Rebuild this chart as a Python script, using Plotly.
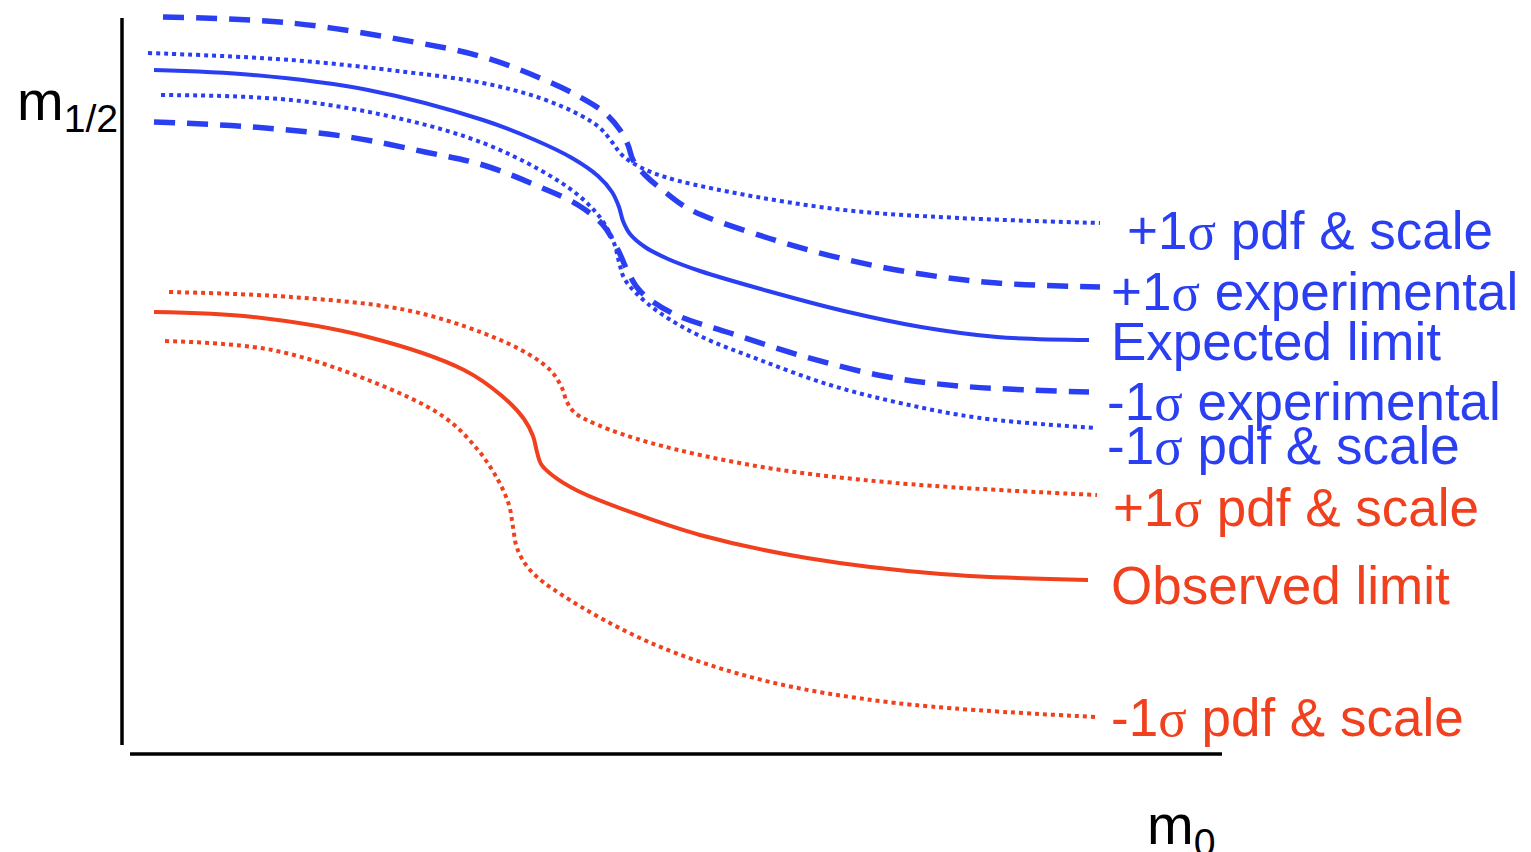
import plotly.graph_objects as go

# ---- curve data (schematic, in drawing units: x to the right, y downward) ----
exp_up_exp_x = [163, 291, 414, 483, 540, 580, 605, 620, 628, 633, 645, 665, 691, 768, 844, 921, 997, 1100]
exp_up_exp_y = [17, 23, 42, 57, 78, 97, 113, 130, 145, 160, 175, 192, 210, 238, 259, 274, 283, 287]

exp_up_pdf_x = [148, 291, 406, 483, 540, 580, 600, 612, 622, 638, 665, 730, 844, 959, 1100]
exp_up_pdf_y = [53, 60, 72, 83, 98, 115, 128, 142, 155, 166, 177, 192, 210, 218, 223]

expected_x = [154, 253, 368, 483, 535, 572, 598, 612, 619, 623, 630, 645, 668, 700, 768, 844, 921, 997, 1089]
expected_y = [70, 75, 90, 120, 140, 158, 176, 192, 207, 221, 234, 247, 259, 271, 291, 311, 327, 337, 340]

exp_dn_pdf_x = [161, 291, 406, 483, 540, 578, 602, 614, 619, 624, 636, 660, 700, 760, 830, 900, 980, 1097]
exp_dn_pdf_y = [95, 100, 120, 143, 170, 195, 220, 243, 262, 278, 293, 313, 336, 360, 385, 403, 418, 428]

exp_dn_exp_x = [154, 253, 349, 425, 483, 540, 578, 603, 618, 628, 640, 672, 730, 806, 883, 959, 1089]
exp_dn_exp_y = [122, 127, 137, 152, 165, 187, 205, 225, 250, 272, 291, 313, 333, 357, 376, 386, 392]

obs_up_pdf_x = [169, 291, 406, 483, 530, 552, 562, 567, 575, 598, 651, 762, 896, 1097]
obs_up_pdf_y = [292, 297, 310, 333, 355, 372, 388, 402, 413, 425, 443, 467, 483, 495]

observed_x = [154, 253, 368, 464, 502, 524, 533, 537, 541, 552, 578, 636, 700, 807, 941, 1088]
observed_y = [312, 317, 337, 370, 396, 419, 436, 452, 464, 475, 491, 514, 535, 558, 574, 580]

obs_dn_pdf_x = [165, 272, 368, 444, 478, 498, 509, 513, 517, 530, 562, 651, 762, 896, 1097]
obs_dn_pdf_y = [341, 350, 380, 417, 450, 480, 505, 527, 548, 570, 595, 643, 680, 703, 717]

# ---- labels ----
label_texts = ["+1σ pdf & scale", "+1σ experimental", "Expected limit",
               "-1σ experimental", "-1σ pdf & scale",
               "+1σ pdf & scale", "Observed limit", "-1σ pdf & scale"]
label_x = [1125, 1109, 1109, 1105, 1105, 1111, 1109, 1109]
label_y = [230, 291, 341, 401, 445, 507, 585, 717]
label_col = ["blue"] * 5 + ["red"] * 3

BLUE = "#2b3ff2"
RED = "#f0401e"

fig = go.Figure()

def add(x, y, color, dash, width):
    fig.add_trace(go.Scatter(x=x, y=y, mode="lines",
                             line=dict(color=color, width=width, dash=dash,
                                       shape="spline", smoothing=1.0),
                             hoverinfo="skip", showlegend=False))

DASH = "21px,12px"
DOT = "4px,4px"
add(exp_up_exp_x, exp_up_exp_y, BLUE, DASH, 5.5)
add(exp_up_pdf_x, exp_up_pdf_y, BLUE, DOT, 4)
add(expected_x, expected_y, BLUE, "solid", 4)
add(exp_dn_pdf_x, exp_dn_pdf_y, BLUE, DOT, 4)
add(exp_dn_exp_x, exp_dn_exp_y, BLUE, DASH, 5.5)
add(obs_up_pdf_x, obs_up_pdf_y, RED, DOT, 4)
add(observed_x, observed_y, RED, "solid", 4)
add(obs_dn_pdf_x, obs_dn_pdf_y, RED, DOT, 4)

# axes (schematic)
fig.add_shape(type="line", x0=122, x1=122, y0=18, y1=745,
              xref="x", yref="y", line=dict(color="black", width=3.5))
fig.add_shape(type="line", x0=130, x1=1222, y0=754, y1=754,
              xref="x", yref="y", line=dict(color="black", width=3.5))

FONT = "Liberation Sans, Arial, sans-serif"

def fmt(t):
    return t.replace("σ", "<span style='font-family:Liberation Serif'>σ</span>")

for t, x, y, c in zip(label_texts, label_x, label_y, label_col):
    fig.add_annotation(x=x, y=y, xref="x", yref="y", text=fmt(t), showarrow=False,
                       xanchor="left", yanchor="middle",
                       font=dict(family=FONT, size=53, color=BLUE if c == "blue" else RED))

fig.add_annotation(x=15, y=104, xref="x", yref="y", showarrow=False,
                   xanchor="left", yanchor="middle",
                   text="m<sub>1/2</sub>",
                   font=dict(family=FONT, size=56, color="black"))
fig.add_annotation(x=1145, y=828, xref="x", yref="y", showarrow=False,
                   xanchor="left", yanchor="middle",
                   text="m<sub>0</sub>",
                   font=dict(family=FONT, size=56, color="black"))

# the page places the figure 8px in from the top-left corner; offset the ranges
OFF = 8
fig.update_layout(width=1531, height=852, margin=dict(l=0, r=0, t=0, b=0),
                  plot_bgcolor="white", paper_bgcolor="white",
                  xaxis=dict(range=[OFF, 1531 + OFF], visible=False, fixedrange=True),
                  yaxis=dict(range=[852 + OFF, OFF], visible=False, fixedrange=True))

fig.write_html("out.html")
